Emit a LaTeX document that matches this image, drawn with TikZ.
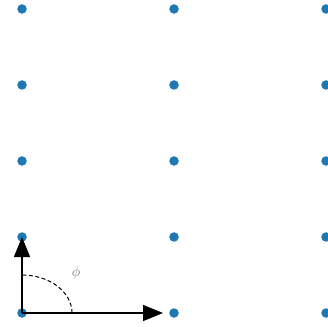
\documentclass[tikz,border=0pt]{standalone}
\usetikzlibrary{arrows.meta}
\definecolor{latblue}{HTML}{1F77B4}
\definecolor{latgray}{HTML}{707070}
\tikzset{
  latdot/.style={circle, fill=latblue, inner sep=0pt, minimum size=9.5pt},
  latarr/.style={-{Triangle[length=20pt,width=16pt]}, line width=1.4pt, draw=black},
  latarc/.style={dashed, dash pattern=on 4pt off 2.5pt, line width=1pt},
  latlbl/.style={font=\fontsize{14}{16}\selectfont, text=latgray},
}

\begin{document}
\begin{tikzpicture}[x=1pt, y=1pt]
  \useasboundingbox (0,0) rectangle (328,326);
  % lattice points
  \foreach \i in {0,1,2}
    \foreach \j in {0,...,4}
      \node[latdot] (d\i\j) at (22+152*\i, 13+76*\j) {};
  \coordinate (ex) at (163,13);
  \coordinate (arcstart) at (72,13);
  \draw[latarr] (d00.center) -- (ex);
  \draw[latarr] (d00.center) -- (d01.center);
  \draw[latarc] (arcstart) arc[start angle=0, end angle=90, x radius=50, y radius=38];
  \node[latlbl] (phi) at (76,53) {$\phi$};
\end{tikzpicture}
\end{document}
